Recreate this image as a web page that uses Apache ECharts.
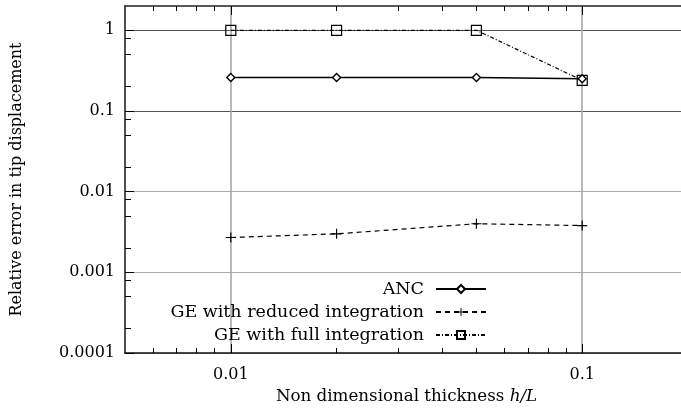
<!DOCTYPE html>
<html>
<head>
<meta charset="utf-8">
<script src="https://cdn.jsdelivr.net/npm/echarts@6/dist/echarts.min.js"></script>
<style>
  html, body { margin: 0; padding: 0; background: #fff; }
  #chart { width: 681px; height: 420px; }
</style>
</head>
<body>
<div id="chart"></div>
<script>
// Relative tip-displacement error against non-dimensional thickness h/L
const hOverL = [0.01, 0.02, 0.05, 0.1];
const ancError = [0.26, 0.26, 0.26, 0.25];
const geReducedError = [0.0027, 0.0030, 0.0040, 0.0038];
const geFullError = [1.0, 1.0, 1.0, 0.24];

const seriesNames = ['ANC', 'GE with reduced integration', 'GE with full integration'];

// Axis ticks (log decades) and their labels
const xMajorTicks = [0.01, 0.1];
const xTickLabels = ['0.01', '0.1'];
const xMinorTicks = [0.006, 0.007, 0.008, 0.009,
                     0.02, 0.03, 0.04, 0.05, 0.06, 0.07, 0.08, 0.09];
const yMajorTicks = [0.0001, 0.001, 0.01, 0.1, 1];
const yTickLabels = ['0.0001', '0.001', '0.01', '0.1', '1'];
const yMinorTicks = [0.0002, 0.0005, 0.0008,
                     0.002, 0.005, 0.008,
                     0.02, 0.05, 0.08,
                     0.2, 0.5, 0.8];

const X_MIN = 0.005, X_MAX = 0.2;
const Y_MIN = 0.0001, Y_MAX = 2;

const FONT = 'DejaVu Serif';
const INK = '#000';

function pairs(ys) { return hOverL.map((x, i) => [x, ys[i]]); }
function labelFor(ticks, labels) {
  return function (v) {
    for (let i = 0; i < ticks.length; i++) {
      if (Math.abs(Math.log10(v) - Math.log10(ticks[i])) < 1e-6) return labels[i];
    }
    return '';
  };
}

// A log axis that only carries a set of inward ticks (minor ticks / mirrored frame)
function tickAxis(kind, position, ticks, len, withLine) {
  return {
    type: 'log', logBase: 10, position: position,
    min: kind === 'x' ? X_MIN : Y_MIN,
    max: kind === 'x' ? X_MAX : Y_MAX,
    axisLine: { show: !!withLine, onZero: false, lineStyle: { color: '#222', width: 1.6 } },
    axisTick: { show: true, inside: true, length: len, customValues: ticks,
                lineStyle: { color: INK, width: 1 } },
    axisLabel: { show: false },
    splitLine: { show: false },
    minorTick: { show: false }
  };
}

const chart = echarts.init(document.getElementById('chart'), null, { renderer: 'canvas' });

const xMain = {
  type: 'log', logBase: 10, position: 'bottom',
  min: X_MIN, max: X_MAX,
  name: '{t|Non dimensional thickness }{i|h/L}',
  nameLocation: 'middle',
  nameGap: 34,
  nameTextStyle: {
    rich: {
      t: { fontFamily: FONT, fontSize: 16.7, color: INK },
      i: { fontFamily: FONT, fontSize: 16.7, color: INK, fontStyle: 'italic' }
    }
  },
  axisLine: { show: true, onZero: false, lineStyle: { color: '#111', width: 1.6 } },
  axisTick: { show: true, inside: true, length: 9, customValues: xMajorTicks,
              lineStyle: { color: INK, width: 1 } },
  axisLabel: { show: true, customValues: xMajorTicks, margin: 14,
               fontFamily: FONT, fontSize: 16, color: INK,
               formatter: labelFor(xMajorTicks, xTickLabels) },
  splitLine: { show: true, lineStyle: { color: '#a8a8a8', width: 1.6 } },
  minorTick: { show: false }
};

const yMain = {
  type: 'log', logBase: 10, position: 'left',
  min: Y_MIN, max: Y_MAX,
  name: 'Relative error in tip displacement',
  nameLocation: 'middle',
  nameGap: 100,
  nameTextStyle: { fontFamily: FONT, fontSize: 16, color: INK },
  axisLine: { show: true, onZero: false, lineStyle: { color: '#222', width: 1.6 } },
  axisTick: { show: true, inside: true, length: 9, customValues: yMajorTicks,
              lineStyle: { color: INK, width: 1 } },
  axisLabel: { show: true, customValues: yMajorTicks, margin: 10,
               fontFamily: FONT, fontSize: 16, color: INK,
               formatter: labelFor(yMajorTicks, yTickLabels) },
  splitLine: { show: true,
               lineStyle: { color: ['#aaa', '#aaa', '#aaa', '#555', '#555'], width: 1.2 } },
  minorTick: { show: false }
};

function legendFor(name, top) {
  return {
    data: [name],
    orient: 'vertical',
    align: 'right',
    right: 189,
    top: top,
    itemWidth: 50,
    itemHeight: 10,
    selectedMode: false,
    textStyle: { fontFamily: FONT, fontSize: 17.5, color: INK, padding: [0, 7, 0, 0] }
  };
}

chart.setOption({
  animation: false,
  backgroundColor: '#fff',
  // the frame runs on to h/L = 0.2, slightly past the right edge of the canvas
  grid: { left: 125, top: 6, width: 563, height: 347,
          containLabel: false, outerBoundsMode: 'none' },
  xAxis: [
    xMain,
    tickAxis('x', 'bottom', xMinorTicks, 5, false),
    tickAxis('x', 'top', xMajorTicks, 9, true),
    tickAxis('x', 'top', xMinorTicks, 5, false)
  ],
  yAxis: [
    yMain,
    tickAxis('y', 'left', yMinorTicks, 6, false)
  ],
  legend: [
    legendFor(seriesNames[0], 275),
    legendFor(seriesNames[1], 298),
    legendFor(seriesNames[2], 321)
  ],
  series: [
    {
      name: seriesNames[0], type: 'line', xAxisIndex: 0, yAxisIndex: 0,
      data: pairs(ancError),
      symbol: 'diamond', symbolSize: [8, 8], showAllSymbol: true,
      lineStyle: { color: INK, width: 1.5, type: 'solid' },
      itemStyle: { color: '#fff', borderColor: INK, borderWidth: 1.4 },
      z: 4
    },
    {
      name: seriesNames[1], type: 'line', xAxisIndex: 0, yAxisIndex: 0,
      data: pairs(geReducedError),
      symbol: 'path://M0,4.4H10V5.6H0ZM4.4,0H5.6V10H4.4Z', symbolSize: 10,
      lineStyle: { color: INK, width: 1.2, type: [5, 4] },
      itemStyle: { color: INK, borderWidth: 0 },
      z: 3
    },
    {
      name: seriesNames[2], type: 'line', xAxisIndex: 0, yAxisIndex: 0,
      data: pairs(geFullError),
      symbol: 'rect', symbolSize: 10,
      lineStyle: { color: INK, width: 1.2, type: [4, 2, 1, 2] },
      itemStyle: { color: 'rgba(0,0,0,0)', borderColor: INK, borderWidth: 1.2 },
      z: 3
    }
  ]
});
</script>
</body>
</html>
